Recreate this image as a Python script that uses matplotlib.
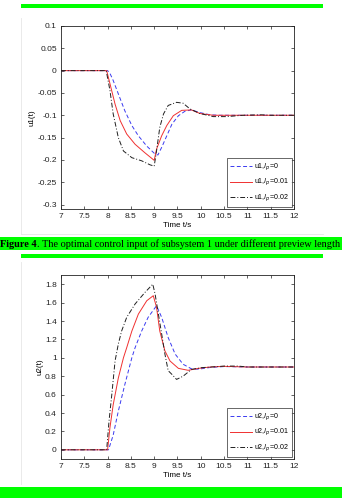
import matplotlib
matplotlib.use("Agg")
import matplotlib.pyplot as plt
from matplotlib.lines import Line2D
from matplotlib.patches import Rectangle

# ---- data ----------------------------------------------------------------
# subsystem 1 control input u1(t)
t1_lp0 = [7.0, 8.0, 8.05, 8.12, 8.23, 8.37, 8.52, 8.66, 8.84, 9.02, 9.08,
          9.16, 9.27, 9.38, 9.52, 9.66, 9.8, 9.98, 10.2, 10.4, 11.0, 12.0]
u1_lp0 = [0.0, 0.0, -0.006, -0.022, -0.052, -0.09, -0.123, -0.146, -0.169,
          -0.187, -0.189, -0.172, -0.146, -0.12, -0.101, -0.091, -0.088,
          -0.094, -0.099, -0.1, -0.1, -0.1]

t1_lp1 = [7.0, 7.98, 8.05, 8.16, 8.27, 8.41, 8.59, 8.8, 9.0, 9.05, 9.16,
          9.27, 9.41, 9.59, 9.8, 9.98, 10.27, 10.5, 11.0, 12.0]
u1_lp1 = [0.0, 0.0, -0.029, -0.075, -0.112, -0.142, -0.165, -0.184, -0.201,
          -0.176, -0.146, -0.123, -0.101, -0.089, -0.088, -0.096, -0.1,
          -0.1, -0.1, -0.1]

t1_lp2 = [7.0, 7.97, 8.05, 8.12, 8.23, 8.34, 8.52, 8.73, 8.91, 9.0, 9.05,
          9.12, 9.2, 9.3, 9.48, 9.62, 9.77, 9.98, 10.27, 10.56, 10.9, 11.3,
          11.5, 12.0]
u1_lp2 = [0.0, 0.0, -0.044, -0.097, -0.15, -0.18, -0.195, -0.202, -0.211,
          -0.214, -0.18, -0.127, -0.097, -0.078, -0.071, -0.073, -0.086,
          -0.096, -0.103, -0.103, -0.1, -0.099, -0.1, -0.1]

# subsystem 2 control input u2(t)
t2_lp0 = [7.0, 8.02, 8.12, 8.23, 8.37, 8.52, 8.59, 8.73, 8.87, 9.05, 9.16,
          9.3, 9.45, 9.62, 9.8, 9.95, 10.2, 10.5, 11.0, 12.0]
u2_lp0 = [0.0, 0.0, 0.16, 0.42, 0.71, 1.0, 1.11, 1.29, 1.44, 1.566, 1.44,
          1.22, 1.04, 0.93, 0.88, 0.876, 0.895, 0.905, 0.9, 0.9]

t2_lp1 = [7.0, 8.0, 8.05, 8.12, 8.23, 8.34, 8.41, 8.52, 8.66, 8.84, 8.98,
          9.05, 9.12, 9.23, 9.34, 9.52, 9.73, 9.95, 10.2, 10.5, 11.0, 12.0]
u2_lp1 = [0.0, 0.0, 0.24, 0.49, 0.78, 1.0, 1.11, 1.29, 1.475, 1.62, 1.675,
          1.55, 1.29, 1.075, 0.965, 0.885, 0.864, 0.885, 0.9, 0.907, 0.9, 0.9]

t2_lp2 = [7.0, 7.98, 8.03, 8.09, 8.16, 8.23, 8.3, 8.41, 8.59, 8.8, 8.97,
          9.02, 9.09, 9.16, 9.23, 9.3, 9.38, 9.48, 9.62, 9.8, 10.02, 10.23,
          10.5, 10.8, 11.0, 12.0]
u2_lp2 = [0.0, 0.0, 0.31, 0.6, 0.965, 1.15, 1.29, 1.44, 1.585, 1.71, 1.80,
          1.69, 1.475, 1.26, 1.04, 0.86, 0.82, 0.765, 0.80, 0.874, 0.893,
          0.90, 0.91, 0.91, 0.9, 0.9]

x_ticks = [7, 7.5, 8, 8.5, 9, 9.5, 10, 10.5, 11, 11.5, 12]
x_tick_labels = ["7", "7.5", "8", "8.5", "9", "9.5", "10", "10.5", "11",
                 "11.5", "12"]
u1_ticks = [0.1, 0.05, 0, -0.05, -0.1, -0.15, -0.2, -0.25, -0.3]
u1_tick_labels = ["0.1", "0.05", "0", "-0.05", "-0.1", "-0.15", "-0.2",
                  "-0.25", "-0.3"]
u2_ticks = [0, 0.2, 0.4, 0.6, 0.8, 1.0, 1.2, 1.4, 1.6, 1.8]
u2_tick_labels = ["0", "0.2", "0.4", "0.6", "0.8", "1", "1.2", "1.4", "1.6",
                  "1.8"]

caption_bold = "Figure 4"
caption_rest = (". The optimal control input of subsystem 1 under different "
                "preview length")

# ---- styling --------------------------------------------------------------
W, H, DPI = 342, 498, 100
GREEN = "#00ff00"
BLUE = "#3a3af0"
RED = "#f03030"
BLACK = "#202020"
plt.rcParams["font.family"] = ["Liberation Sans", "DejaVu Sans"]


def px_rect(x0, y0, x1, y1):
    """Figure-fraction rect from pixel box (top-left origin)."""
    return [x0 / W, 1 - y1 / H, (x1 - x0) / W, (y1 - y0) / H]


def style_axes(ax, yticks, ylabels, ylim, ylabel):
    ax.set_xlim(7, 12)
    ax.set_ylim(*ylim)
    ax.set_xticks(x_ticks)
    ax.set_xticklabels(x_tick_labels)
    ax.set_yticks(yticks)
    ax.set_yticklabels(ylabels)
    ax.tick_params(direction="in", length=2.2, width=0.5, labelsize=6,
                   top=True, right=True, pad=3, colors="#222222")
    for s in ax.spines.values():
        s.set_linewidth(0.6)
        s.set_color("#222222")
    ax.set_xlabel("Time t/s", fontsize=5.8, labelpad=1)
    ax.set_ylabel(ylabel, fontsize=5.8, labelpad=1.5)


def draw_panel(ax, series, name):
    labels = [f"{name},$l_p$=0", f"{name},$l_p$=0.01", f"{name},$l_p$=0.02"]
    styles = [(BLUE, (0, (4, 2.5))), (RED, "-"), (BLACK, (0, (5, 2, 1, 2)))]
    for (t, u), lab, (c, ls) in zip(series, labels, styles):
        ax.plot(t, u, color=c, linestyle=ls, linewidth=0.7, label=lab)
    leg = ax.legend(loc="lower right", fontsize=5.1, frameon=True,
                    fancybox=False, edgecolor="#222222", handlelength=3.0,
                    handletextpad=0.3, labelspacing=0.55, borderpad=0.45,
                    borderaxespad=0.3)
    leg.get_frame().set_linewidth(0.6)


fig = plt.figure(figsize=(W / DPI, H / DPI), dpi=DPI)

# decorative green bars and faint frame lines
fig.add_artist(Rectangle((21 / W, 1 - 7.7 / H), 302 / W, 3.6 / H,
                         transform=fig.transFigure, color=GREEN, lw=0))
fig.add_artist(Rectangle((21 / W, 1 - 257.5 / H), 302 / W, 3.5 / H,
                         transform=fig.transFigure, color=GREEN, lw=0))
fig.add_artist(Rectangle((0, 1 - 250 / H), 1, 13 / H,
                         transform=fig.transFigure, color=GREEN, lw=0))
fig.add_artist(Rectangle((0, 0), 1, 11 / H,
                         transform=fig.transFigure, color=GREEN, lw=0))
for y0, y1 in [(18, 234), (262, 484)]:
    fig.add_artist(Line2D([21 / W, 21 / W], [1 - y0 / H, 1 - y1 / H],
                          transform=fig.transFigure, color="#e6e6e6", lw=0.6))
fig.add_artist(Line2D([21 / W, 323 / W], [1 - 234 / H, 1 - 234 / H],
                      transform=fig.transFigure, color="#e6e6e6", lw=0.6))

# ---- panel 1 --------------------------------------------------------------
ax1 = fig.add_axes(px_rect(61, 26, 294, 209))
draw_panel(ax1, [(t1_lp0, u1_lp0), (t1_lp1, u1_lp1), (t1_lp2, u1_lp2)], "u1")
style_axes(ax1, u1_ticks, u1_tick_labels, (-0.31, 0.1), "u1(t)")

# ---- panel 2 --------------------------------------------------------------
ax2 = fig.add_axes(px_rect(61, 275, 294, 459))
draw_panel(ax2, [(t2_lp0, u2_lp0), (t2_lp1, u2_lp1), (t2_lp2, u2_lp2)], "u2")
style_axes(ax2, u2_ticks, u2_tick_labels, (-0.1, 1.9), "u2(t)")

# ---- caption --------------------------------------------------------------
cap_y = 1 - 244 / H
tb = fig.text(0.0, cap_y, caption_bold, fontsize=7.4, fontweight="bold",
              family="Liberation Serif", va="center", ha="left")
fig.canvas.draw()
bb = tb.get_window_extent()
fig.text(bb.x1 / W, cap_y, caption_rest, fontsize=7.4,
         family="Liberation Serif", va="center", ha="left")

fig.savefig("out.png", dpi=DPI, facecolor="white")
